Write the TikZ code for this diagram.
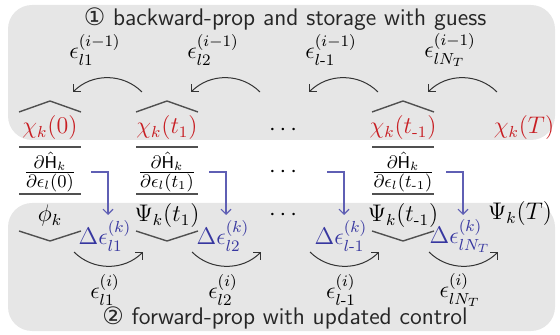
\documentclass[tikz,border=0pt]{standalone}
\usepackage{amsmath}
\usepackage{fontspec}
\newfontfamily\symfont{DejaVu Sans}
\usetikzlibrary{arrows.meta, positioning, calc}

\definecolor{boxgray}{RGB}{230,230,230}
\definecolor{chired}{RGB}{200,30,35}
\definecolor{updblue}{RGB}{55,55,160}
\definecolor{pushblue}{RGB}{95,95,180}
\definecolor{rulegray}{RGB}{80,80,80}

\tikzset{
  phase/.style={fill=boxgray, rounded corners=12},
  title/.style={font=\fontsize{12}{14}\selectfont\sffamily, text=black!85},
  chi/.style={text=chired},
  upd/.style={text=updblue},
  hat/.style={draw=rulegray, line width=0.7pt},
  gradfrac/.style={inner sep=1pt, font=\fontsize{12.3}{15}\selectfont},
  flow/.style={->, >={Straight Barb[length=2.5pt,width=5pt]}, black!80, line width=0.5pt},
  push/.style={->, >={Straight Barb[length=2.5pt,width=5pt]}, pushblue, line width=0.55pt}
}

\begin{document}
\begin{tikzpicture}[x=0.5pt, y=-0.5pt, font=\fontsize{11.5}{14}\selectfont]
\useasboundingbox (0,0) rectangle (560,335);

% the two phases
\fill[phase] (8,5) rectangle (555,140);
\fill[phase] (8,203) rectangle (555,331);
\node[title] (back) at (285,19) {{\symfont ①} backward-prop and storage with guess};
\node[title] (fwd) at (285,318) {{\symfont ②} forward-prop with updated control};

% time columns: chi on top, gradient in the middle, Psi below
\foreach \n/\x/\t/\psi in {0/50/0/\phi_k, 1/167/t_1/\Psi_k(t_1), 2/403/t_{\text{-}1}/\Psi_k(t_{\text{-}1})} {
  \node[chi] (chi\n) at (\x,128) {$\chi_k(\t)$};
  \draw[hat] (\x-31,112) -- (\x,101) -- (\x+31,112);
  \node[gradfrac] (grad\n) at (\x,172) {$\frac{\partial\hat{\mathsf{H}}_k}{\partial\epsilon_l(\t)}$};
  \draw[hat] (\x-31,147) -- (\x+31,147);
  \draw[hat] (\x-31,194) -- (\x+31,194);
  \node (psi\n) at (\x,216) {$\psi$};
  \draw[hat] (\x-31,231) -- (\x,241) -- (\x+31,231);
}
\node (dotsA) at (285,130) {$\cdots$};
\node (dotsB) at (285,172) {$\cdots$};
\node (dotsC) at (285,215) {$\cdots$};
\node[chi] (chiT) at (524,128) {$\chi_k(T)$};
\node (psiT) at (520,214) {$\Psi_k(T)$};

% controls between the columns
\foreach \i/\x/\s in {1/108/l1, 2/226/l2, 3/344/{l\text{-}1}, 4/463/{lN_T}} {
  \node (old\i) at (\x-13,50) {$\epsilon_{\s}^{(i-1)}$};
  \node (new\i) at (\x-3,290) {$\epsilon_{\s}^{(i)}$};
  \node[upd] (dk\i) at (\x-3,236) {$\Delta\epsilon_{\s}^{(k)}$};
  \coordinate (bs\i) at (\x+34,92);
  \coordinate (be\i) at (\x-35,92);
  \draw[flow] (bs\i) to[bend right=45] (be\i);
  \coordinate (fs\i) at (\x-34,252);
  \coordinate (fe\i) at (\x+35,252);
  \draw[flow] (fs\i) to[bend right=45] (fe\i);
  \coordinate (gs\i) at (\x-17,172);
  \coordinate (ge\i) at (\x,215);
  \draw[push] (gs\i) -| (ge\i);
}
\end{tikzpicture}
\end{document}
